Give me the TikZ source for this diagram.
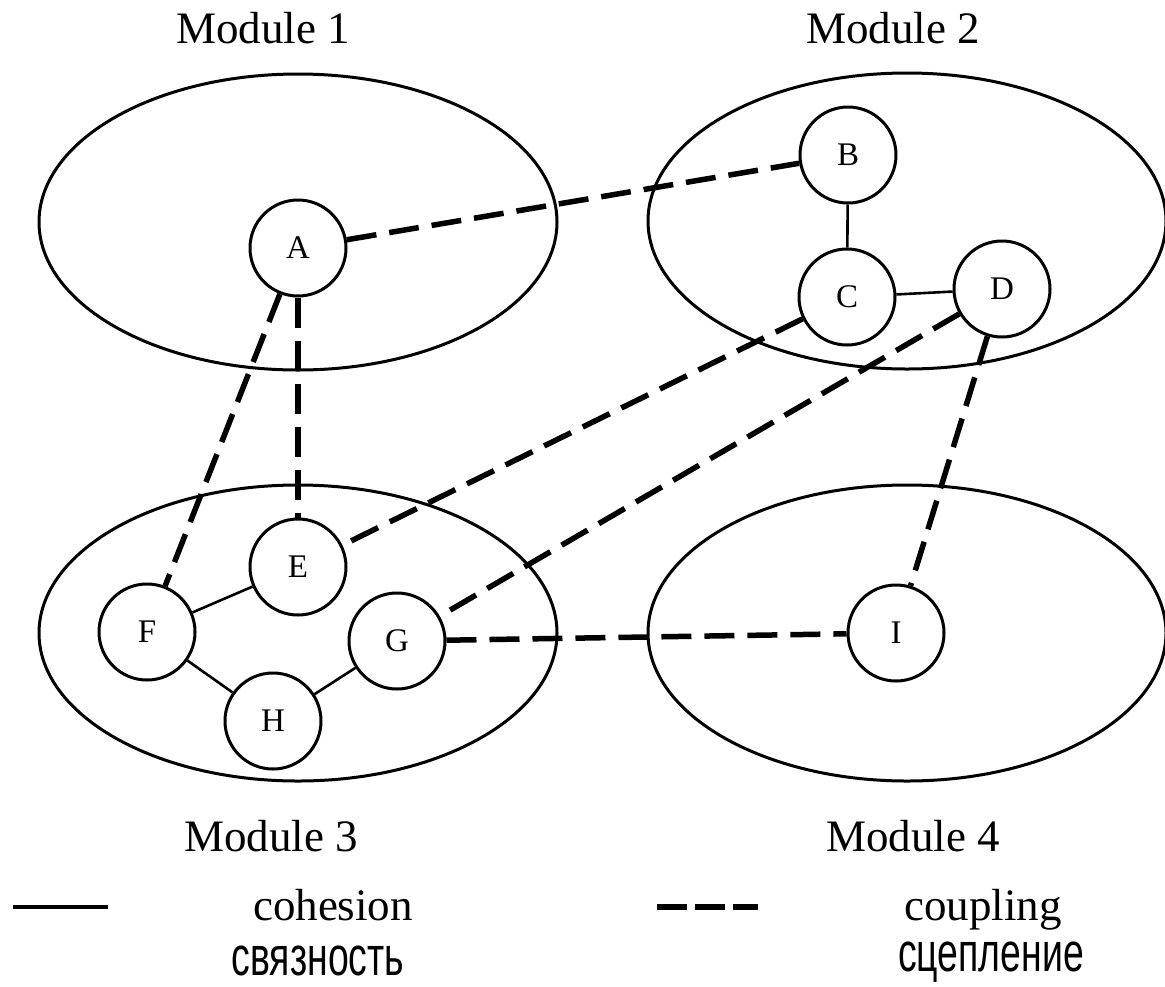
\documentclass[tikz,border=0pt]{standalone}
\usepackage{fontspec}
\setmainfont{Liberation Serif}
\newfontfamily\rufont[FakeStretch=0.68]{Liberation Sans}
\usetikzlibrary{shapes.geometric}
\tikzset{
  module/.style={draw, ellipse, line width=3pt, minimum width=518pt, minimum height=296pt, inner sep=0pt},
  vertex/.style={draw, circle, line width=3pt, minimum size=96pt, inner sep=0pt, font=\fontsize{33}{35}\selectfont},
  cohes/.style={line width=2.6pt},
  coupl/.style={line width=5.5pt, dash pattern=on 30pt off 13pt},
  mlabel/.style={anchor=base, font=\fontsize{45}{48}\selectfont, inner sep=0pt},
  rulabel/.style={anchor=base, font=\fontsize{55}{57}\rufont, inner sep=0pt, text height=0.55em, text depth=0.15em}
}
\begin{document}
\begin{tikzpicture}[x=1pt,y=-1pt]
\useasboundingbox[fill=white] (0,0) rectangle (1165,986);
% modules
\node[module] (m1) at (298,222) {};
\node[module] (m2) at (907,221) {};
\node[module] (m3) at (298,633) {};
\node[module] (m4) at (907,633) {};
% vertices
\node[vertex] (A) at (298,248) {A};
\node[vertex] (B) at (848,155) {B};
\node[vertex] (C) at (847,297) {C};
\node[vertex] (D) at (1002,289) {D};
\node[vertex] (E) at (298,567) {E};
\node[vertex] (F) at (147,632) {F};
\node[vertex] (G) at (397,641) {G};
\node[vertex] (H) at (273,721) {H};
\node[vertex] (I) at (896,633) {I};
% cohesion
\draw[cohes] (B) -- (C);
\draw[cohes] (C) -- (D);
\draw[cohes] (F) -- (E);
\draw[cohes] (F) -- (H);
\draw[cohes] (H) -- (G);
% coupling
\draw[coupl] (A) -- (B);
\draw[coupl] (A) -- (F);
\draw[coupl] (A) -- (E);
\draw[coupl] (C) -- (E);
\draw[coupl] (D) -- (G);
\draw[coupl] (D) -- (I);
\draw[coupl] (G) -- (I);
% labels
\node[mlabel] (l1) at (263,43) {Module 1};
\node[mlabel] (l2) at (893,43) {Module 2};
\node[mlabel] (l3) at (271,851) {Module 3};
\node[mlabel] (l4) at (913,851) {Module 4};
% legend
\coordinate (s1) at (13,907);
\coordinate (s2) at (108,907);
\coordinate (d1) at (657,907);
\coordinate (d2) at (758,907);
\draw[line width=3.5pt] (s1) -- (s2);
\draw[line width=5.5pt, dash pattern=on 30pt off 8pt] (d1) -- (d2);
\node[mlabel] (coh) at (333,920) {cohesion};
\node[mlabel] (cou) at (983,920) {coupling};
\node[rulabel] (svz) at (318,975) {связность};
\node[rulabel] (scp) at (991,971) {сцепление};
\end{tikzpicture}
\end{document}
